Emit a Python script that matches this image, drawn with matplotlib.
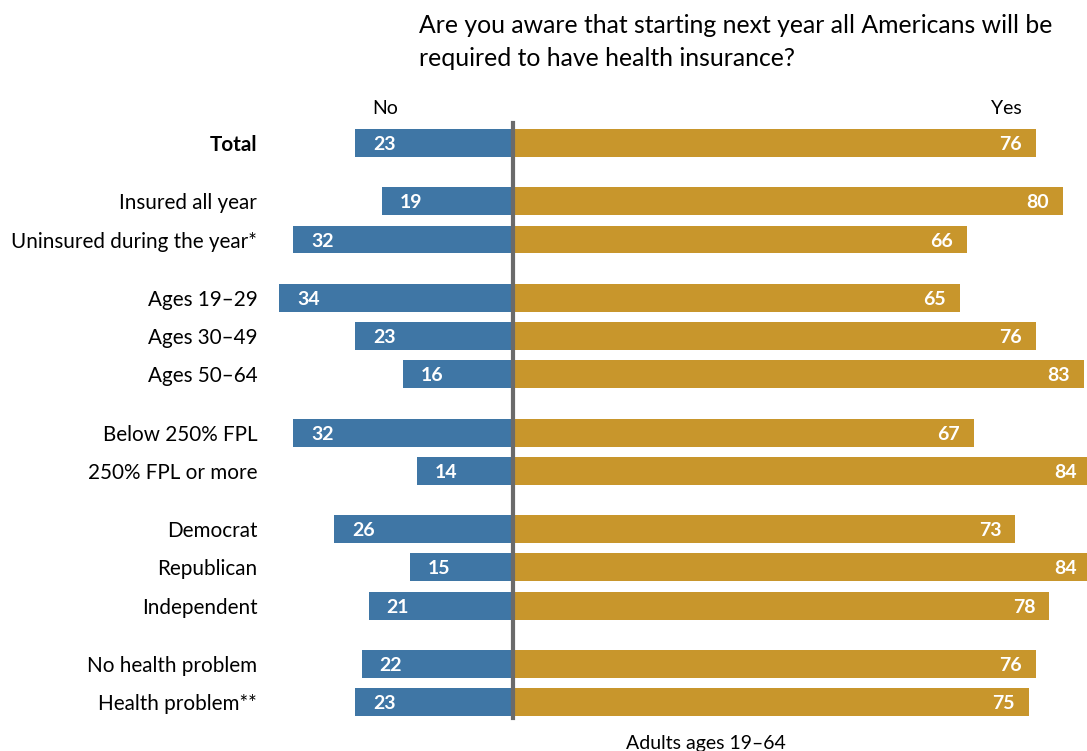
import matplotlib.pyplot as plt

categories = ["Total", "Insured all year", "Uninsured during the year*",
              "Ages 19\u201329", "Ages 30\u201349", "Ages 50\u201364",
              "Below 250% FPL", "250% FPL or more",
              "Democrat", "Republican", "Independent",
              "No health problem", "Health problem**"]
groups = [0, 1, 1, 2, 2, 2, 3, 3, 4, 4, 4, 5, 5]
no_vals = [23, 19, 32, 34, 23, 16, 32, 14, 26, 15, 21, 22, 23]
yes_vals = [76, 80, 66, 65, 76, 83, 67, 84, 73, 84, 78, 76, 75]

BLUE = "#3f76a5"
GOLD = "#c8962c"
FONT = "Lato"

plt.rcParams["font.family"] = [FONT, "DejaVu Sans"]

# row positions: one unit per row, extra gap between groups
ypos = [i + 0.52 * g for i, g in enumerate(groups)]

fig = plt.figure(figsize=(10.87, 7.51), dpi=100)
ax = fig.add_axes([0, 0, 1, 1])
ax.set_xlim(-513 / 6.875, (1087 - 513) / 6.875)
ax.set_ylim((751 - 143) / 38.3, -143 / 38.3)
ax.axis("off")

ax.barh(ypos, [-v for v in no_vals], height=0.73, color=BLUE)
ax.barh(ypos, yes_vals, height=0.73, color=GOLD)
ax.plot([0, 0], [-0.52, ypos[-1] + 0.4], color="#6b6b6b", lw=3, zorder=3)

for y, cat, n, yv, in zip(ypos, categories, no_vals, yes_vals):
    ax.text(-37.2, y, cat, ha="right", va="center_baseline", fontsize=14.9,
            fontweight="bold" if cat == "Total" else "normal")
    ax.text(-n + 2.6, y, str(n), ha="left", va="center_baseline", fontsize=14,
            fontweight="bold", color="white")
    ax.text(yv - 2.0, y, str(yv), ha="right", va="center_baseline", fontsize=14,
            fontweight="bold", color="white")

ax.text(-18.6, -0.95, "No", ha="center", va="center_baseline", fontsize=14)
ax.text(71.8, -0.95, "Yes", ha="center", va="center_baseline", fontsize=14)

fig.text(419 / 1087, 1 - 14 / 751,
         "Are you aware that starting next year all Americans will be\nrequired to have health insurance?",
         ha="left", va="top", fontsize=17.8, linespacing=1.55)
fig.text(706 / 1087, 1 - 742 / 751, "Adults ages 19\u201364",
         ha="center", va="center_baseline", fontsize=14)

fig.savefig("out.png", dpi=100)
